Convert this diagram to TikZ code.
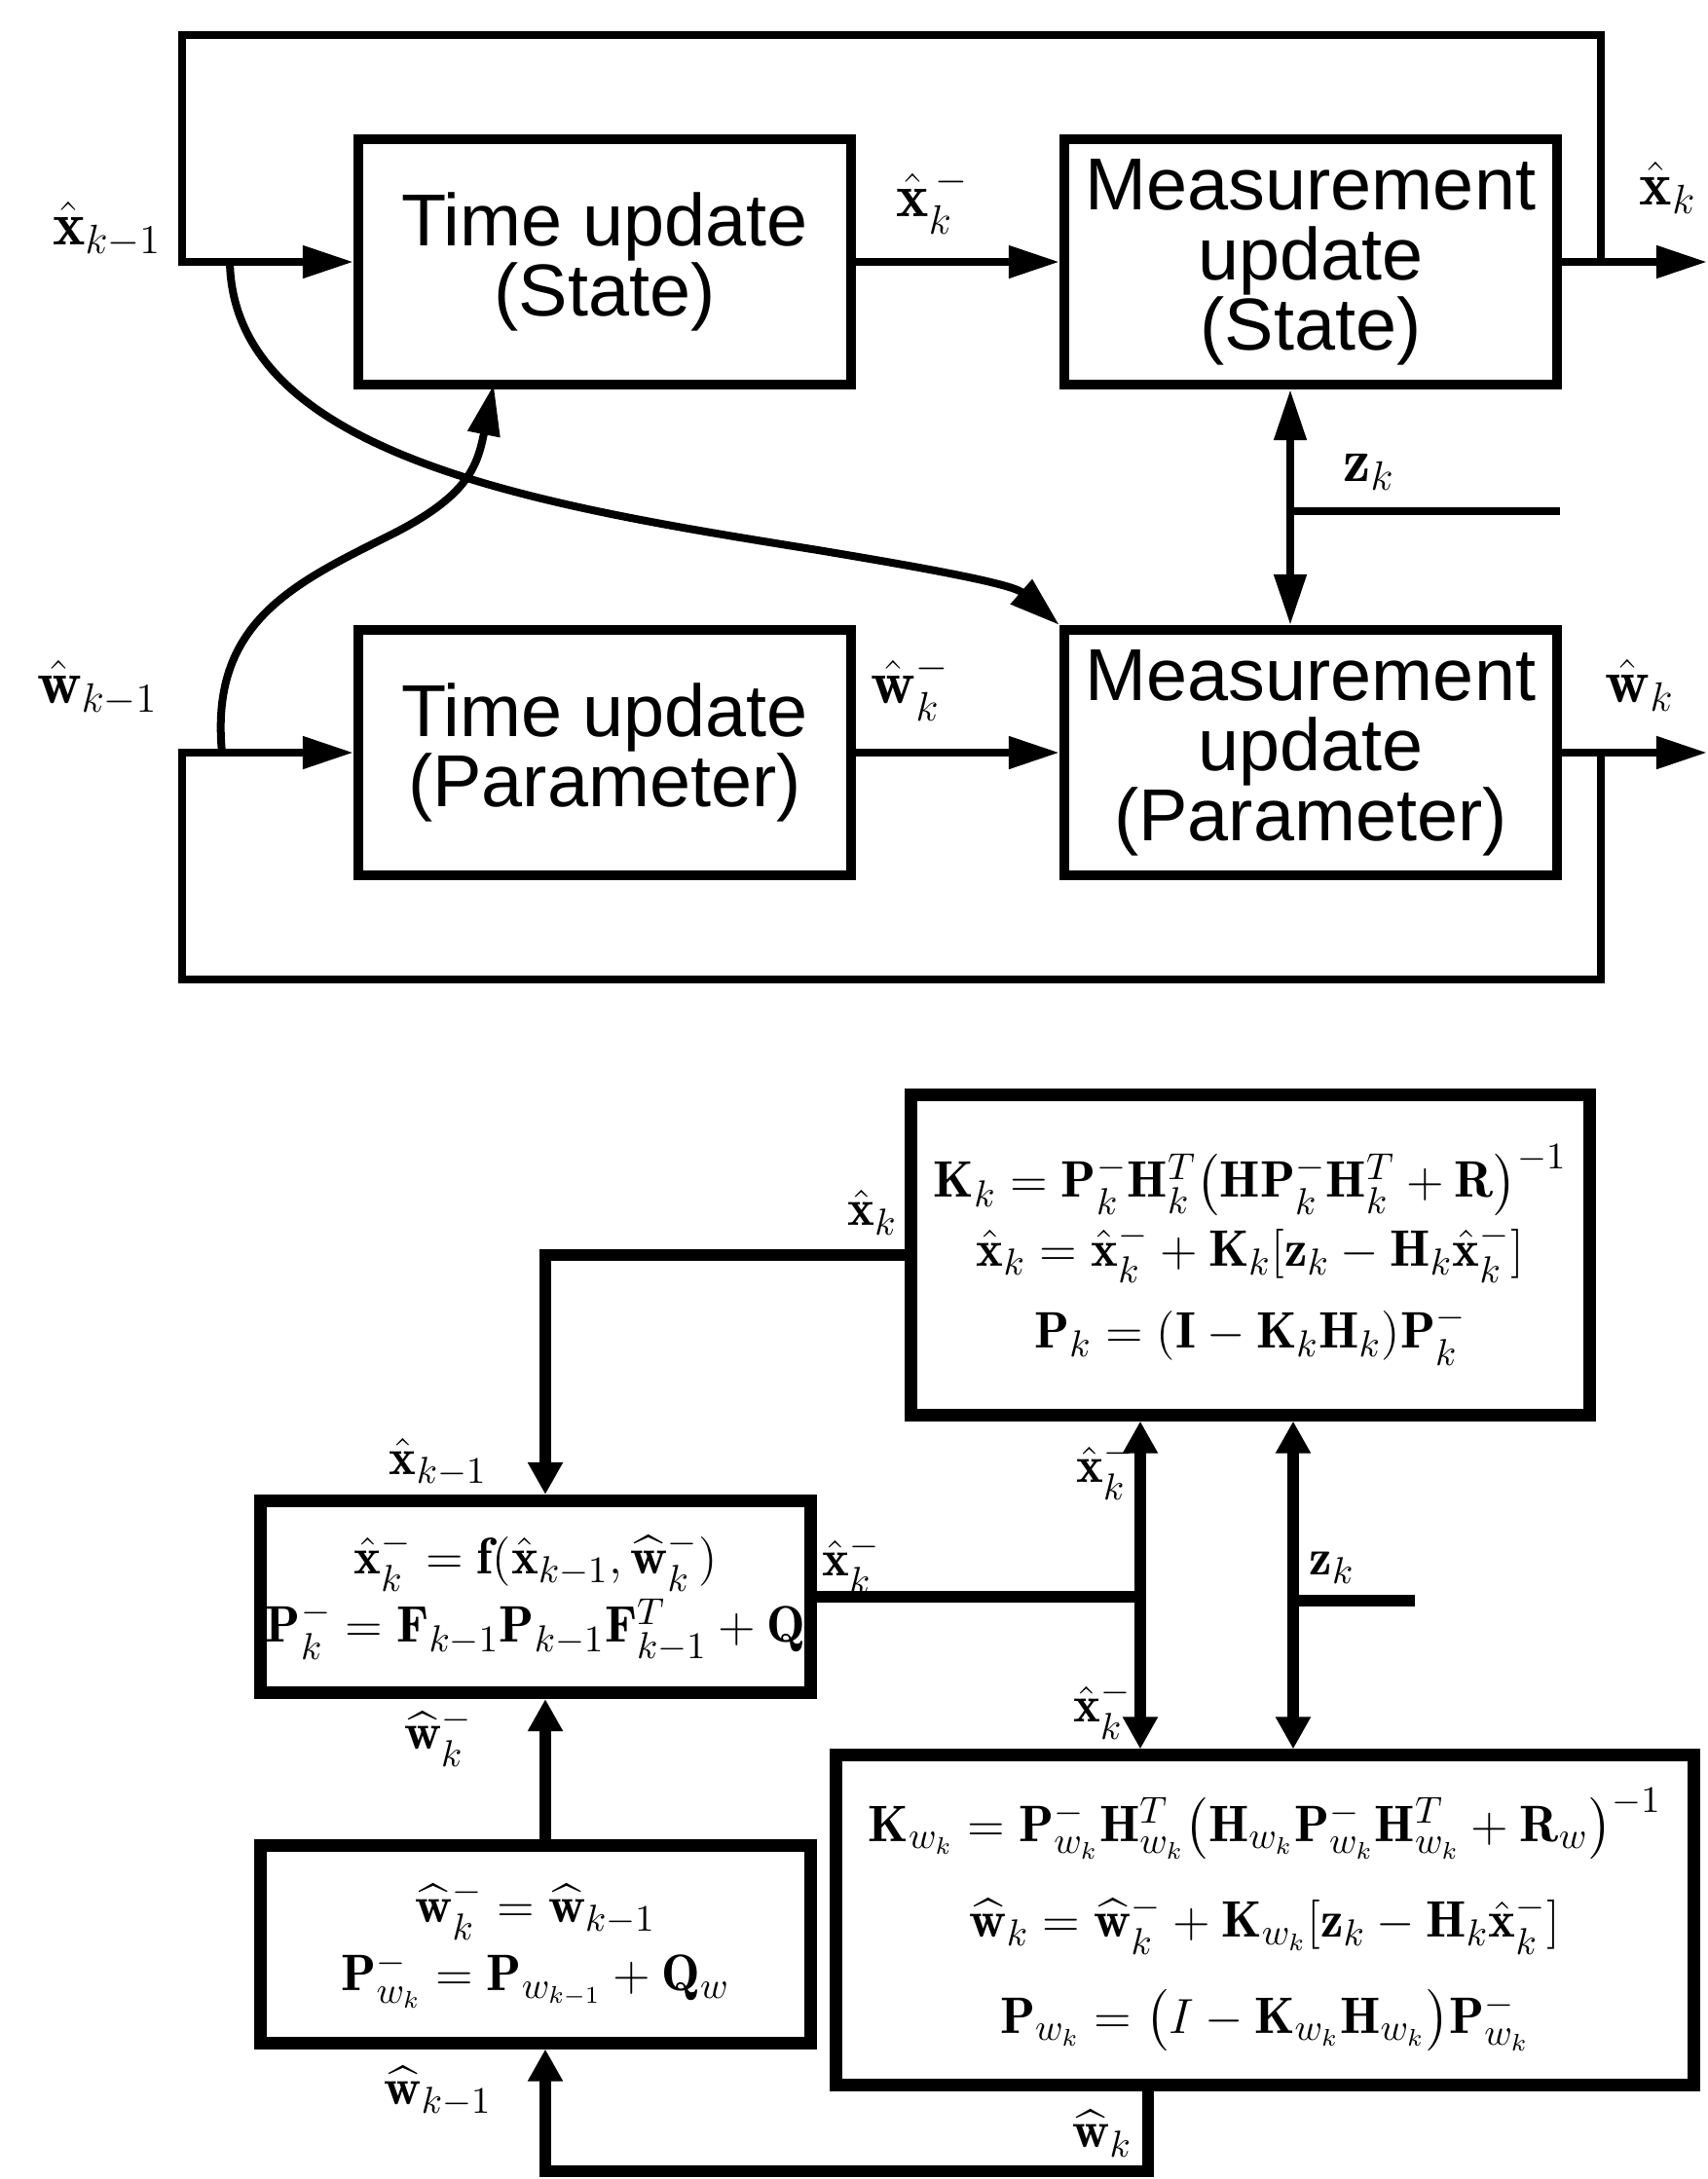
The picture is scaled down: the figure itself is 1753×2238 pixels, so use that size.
\documentclass[tikz,border=0pt]{standalone}
\usepackage{amsmath,amssymb}
\usepackage{fontspec}
\newfontfamily\boxfont{Liberation Sans}
\usetikzlibrary{arrows.meta}

\begin{document}
\begin{tikzpicture}[
  x=0.01cm, y=-0.01cm,
  line width=0.08cm,
  tbox/.style={draw, line width=0.1cm, minimum width=5.06cm, minimum height=2.52cm, inner sep=0pt, align=center, font=\boxfont\fontsize{21.5}{20.5}\selectfont},
  tlabel/.style={font=\fontsize{18}{20}\selectfont},
  arr/.style={-{Triangle[length=0.52cm,width=0.32cm]}},
  arrs/.style={{Triangle[length=0.52cm,width=0.32cm]}-{Triangle[length=0.52cm,width=0.32cm]}},
  ebox/.style={draw, line width=0.13cm, inner sep=0pt, align=center, font=\fontsize{15}{20}\selectfont},
  elabel/.style={font=\fontsize{15}{18}\selectfont},
  barr/.style={line width=0.12cm, -{Triangle[length=0.33cm,width=0.34cm]}},
  barrs/.style={line width=0.12cm, {Triangle[length=0.33cm,width=0.34cm]}-{Triangle[length=0.33cm,width=0.34cm]}},
  bline/.style={line width=0.12cm}
]
\useasboundingbox (0,0) rectangle (1753,2238);

% upper diagram
\node[tbox] (tus) at (621,269) {Time update\\(State)};
\node[tbox] (mus) at (1346,269) {Measurement\\update\\(State)};
\node[tbox] (tup) at (621,773) {Time update\\(Parameter)};
\node[tbox] (mup) at (1346,773) {Measurement\\update\\(Parameter)};

\coordinate (xin) at (187,269);
\coordinate (xtap) at (1644,269);
\coordinate (xloop) at (1644,36);
\coordinate (xout) at (1753,269);
\coordinate (win) at (187,773);
\coordinate (wtap) at (1644,773);
\coordinate (wloop) at (1644,1006);
\coordinate (wout) at (1753,773);
\coordinate (zk) at (1325,525);
\coordinate (zin) at (1602,525);
\coordinate (xcurve) at (236,269);
\coordinate (wcurve) at (228,773);
\coordinate (tin) at (507,395);

\draw[arr] (xtap) -- (xloop) -| (xin) -- (tus.west);
\draw[arr] (wtap) -- (wloop) -| (win) -- (tup.west);
\draw[arr] (tus) -- (mus);
\draw[arr] (tup) -- (mup);
\draw[arr] (mus.east) -- (xout);
\draw[arr] (mup.east) -- (wout);
\draw[arrs] (mus.south -| zk) -- (mup.north -| zk);
\draw (zk) -- (zin);
\draw[arr] (xcurve) .. controls (240,470) and (560,520) .. (840,565)
  .. controls (960,585) and (1040,600) .. (mup.north west);
\draw[arr] (wcurve) .. controls (215,640) and (300,600) .. (400,550)
  .. controls (480,510) and (490,480) .. (tin);

\node[tlabel] (lxk1) at (110,236) {$\hat{\mathbf{x}}_{k-1}$};
\node[tlabel] (lxkm) at (958,207) {$\hat{\mathbf{x}}_k^{\,-}$};
\node[tlabel] (lxk) at (1713,193) {$\hat{\mathbf{x}}_k$};
\node[tlabel] (lzk) at (1406,485) {$\mathbf{z}_k$};
\node[tlabel] (lwk1) at (100,707) {$\hat{\mathbf{w}}_{k-1}$};
\node[tlabel] (lwkm) at (935,707) {$\hat{\mathbf{w}}_k^-$};
\node[tlabel] (lwk) at (1684,704) {$\hat{\mathbf{w}}_k$};

% lower diagram
\node[ebox, minimum width=6.96cm, minimum height=3.28cm] (bmus) at (1284,1289)
  {$\mathbf{K}_k = \mathbf{P}_k^-\mathbf{H}_k^T\big(\mathbf{H}\mathbf{P}_k^-\mathbf{H}_k^T+\mathbf{R}\big)^{-1}$\\
   $\hat{\mathbf{x}}_k = \hat{\mathbf{x}}_k^- + \mathbf{K}_k[\mathbf{z}_k-\mathbf{H}_k\hat{\mathbf{x}}_k^-]$\\[4pt]
   $\mathbf{P}_k = (\mathbf{I}-\mathbf{K}_k\mathbf{H}_k)\mathbf{P}_k^-$};
\node[ebox, minimum width=5.64cm, minimum height=1.97cm] (btus) at (550,1640)
  {$\hat{\mathbf{x}}_k^- = \mathbf{f}(\hat{\mathbf{x}}_{k-1},\widehat{\mathbf{w}}_k^-)$\\
   $\mathbf{P}_k^- = \mathbf{F}_{k-1}\mathbf{P}_{k-1}\mathbf{F}_{k-1}^T+\mathbf{Q}$};
\node[ebox, minimum width=5.64cm, minimum height=2.02cm] (btup) at (550,1997)
  {$\widehat{\mathbf{w}}_k^- = \widehat{\mathbf{w}}_{k-1}$\\
   $\mathbf{P}_{w_k}^- = \mathbf{P}_{w_{k-1}}+\mathbf{Q}_w$};
\node[ebox, minimum width=8.8cm, minimum height=3.38cm] (bmup) at (1299,1972)
  {$\mathbf{K}_{w_k} = \mathbf{P}_{w_k}^-\mathbf{H}_{w_k}^T\big(\mathbf{H}_{w_k}\mathbf{P}_{w_k}^-\mathbf{H}_{w_k}^T+\mathbf{R}_w\big)^{-1}$\\[8pt]
   $\widehat{\mathbf{w}}_k = \widehat{\mathbf{w}}_k^- + \mathbf{K}_{w_k}[\mathbf{z}_k-\mathbf{H}_k\hat{\mathbf{x}}_k^-]$\\[8pt]
   $\mathbf{P}_{w_k} = \big(I-\mathbf{K}_{w_k}\mathbf{H}_{w_k}\big)\mathbf{P}_{w_k}^-$};

\coordinate (bxk) at (560,1289);
\coordinate (bxm) at (1171,1640);
\coordinate (bz) at (1328,1644);
\coordinate (bzin) at (1453,1644);
\coordinate (bw) at (1179,2230);

\draw[barr] (bmus.west) -- (bxk) -- (btus.north -| bxk);
\draw[bline] (btus.east) -- (bxm);
\draw[barrs] (bmus.south -| bxm) -- (bmup.north -| bxm);
\draw[barrs] (bmus.south -| bz) -- (bmup.north -| bz);
\draw[bline] (bz) -- (bzin);
\draw[barr] (btup.north -| bxk) -- (btus.south -| bxk);
\draw[barr] (bmup.south -| bw) -- (bw) -| (btup.south -| bxk);

\node[elabel] (bl1) at (896,1245) {$\hat{\mathbf{x}}_k$};
\node[elabel] (bl2) at (450,1502) {$\hat{\mathbf{x}}_{k-1}$};
\node[elabel] (bl3) at (874,1606) {$\hat{\mathbf{x}}_k^-$};
\node[elabel] (bl4) at (1135,1510) {$\hat{\mathbf{x}}_k^-$};
\node[elabel] (bl5) at (1132,1756) {$\hat{\mathbf{x}}_k^-$};
\node[elabel] (bl6) at (1368,1610) {$\mathbf{z}_k$};
\node[elabel] (bl7) at (450,1784) {$\widehat{\mathbf{w}}_k^-$};
\node[elabel] (bl8) at (450,2148) {$\widehat{\mathbf{w}}_{k-1}$};
\node[elabel] (bl9) at (1132,2191) {$\widehat{\mathbf{w}}_k$};
\end{tikzpicture}
\end{document}
